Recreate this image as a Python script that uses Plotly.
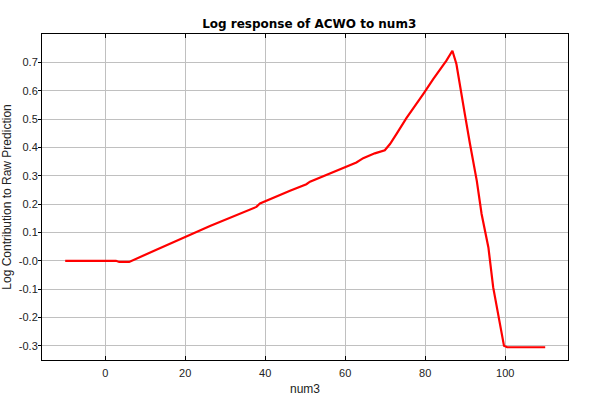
import plotly.graph_objects as go

# Data
num3 = [-10, 2.7, 3.5, 6.0, 12.8, 20.1, 26.2, 37.8, 38.7, 46.2, 50.3, 51.2, 59.9,
        62.8, 64.5, 67.4, 69.9, 71.2, 72.8, 75.3, 79.5, 82.0, 85.3, 86.8, 87.8,
        89.1, 89.9, 91.2, 92.9, 94.1, 95.8, 97.0, 98.7, 99.7, 100.5, 110]
log_contrib = [0, 0, -0.004, -0.004, 0.039, 0.085, 0.123, 0.19, 0.202, 0.247, 0.27,
               0.279, 0.329, 0.347, 0.362, 0.379, 0.39, 0.412, 0.447, 0.503, 0.588,
               0.641, 0.706, 0.741, 0.694, 0.576, 0.518, 0.412, 0.282, 0.165, 0.047,
               -0.094, -0.223, -0.3, -0.305, -0.305]

x_tickvals = [0, 20, 40, 60, 80, 100]
y_tickvals = [0.7, 0.6, 0.5, 0.4, 0.3, 0.2, 0.1, 0.0, -0.1, -0.2, -0.3]
y_ticktext = ["0.7", "0.6", "0.5", "0.4", "0.3", "0.2", "0.1", "-0.0", "-0.1", "-0.2", "-0.3"]

x_range = [-15.8, 115.7]
y_range = [-0.35, 0.80]

fig = go.Figure()
fig.add_trace(go.Scatter(x=num3, y=log_contrib, mode="lines",
                         line=dict(color="#ff0000", width=2.2), showlegend=False,
                         hoverinfo="skip"))

font_family = "Liberation Sans, Arial, sans-serif"
fig.update_layout(
    width=600, height=400,
    margin=dict(l=42, r=32, t=34, b=40, autoexpand=False),
    paper_bgcolor="white", plot_bgcolor="white",
    font=dict(family=font_family, size=11, color="#222222"),
    title=dict(text="<b>Log response of ACWO to num3</b>", x=0.508, xanchor="center",
               xref="paper", y=0.94, yref="container", yanchor="middle",
               automargin=False,
               font=dict(family="DejaVu Sans, sans-serif", size=12, color="black")),
    xaxis=dict(range=x_range, tickvals=x_tickvals, ticks="inside", ticklen=4,
               tickcolor="black", showline=True, linecolor="black", linewidth=1,
               mirror="ticks", showgrid=True, gridcolor="#c0c0c0", gridwidth=1,
               zeroline=False, automargin=False, ticklabelstandoff=3,
               title=dict(text="num3", standoff=6,
                          font=dict(size=12, color="#222222"))),
    yaxis=dict(range=y_range, tickvals=y_tickvals, ticktext=y_ticktext,
               ticks="outside", ticklen=3, tickcolor="black", showline=True,
               linecolor="black", linewidth=1, mirror=True, showgrid=True,
               gridcolor="#c0c0c0", gridwidth=1, zeroline=False, automargin=False,
               ticklabelstandoff=-2,
               title=dict(text="Log Contribution to Raw Prediction", standoff=4,
                          font=dict(size=12, color="#222222"))),
    yaxis2=dict(range=y_range, tickvals=y_tickvals, overlaying="y", side="right",
                ticks="inside", ticklen=4, tickcolor="black", showticklabels=False,
                showgrid=False, zeroline=False, showline=False, automargin=False),
)

fig.write_html("out.html", post_script="document.body.style.margin='0';",
               config={"displayModeBar": False})
